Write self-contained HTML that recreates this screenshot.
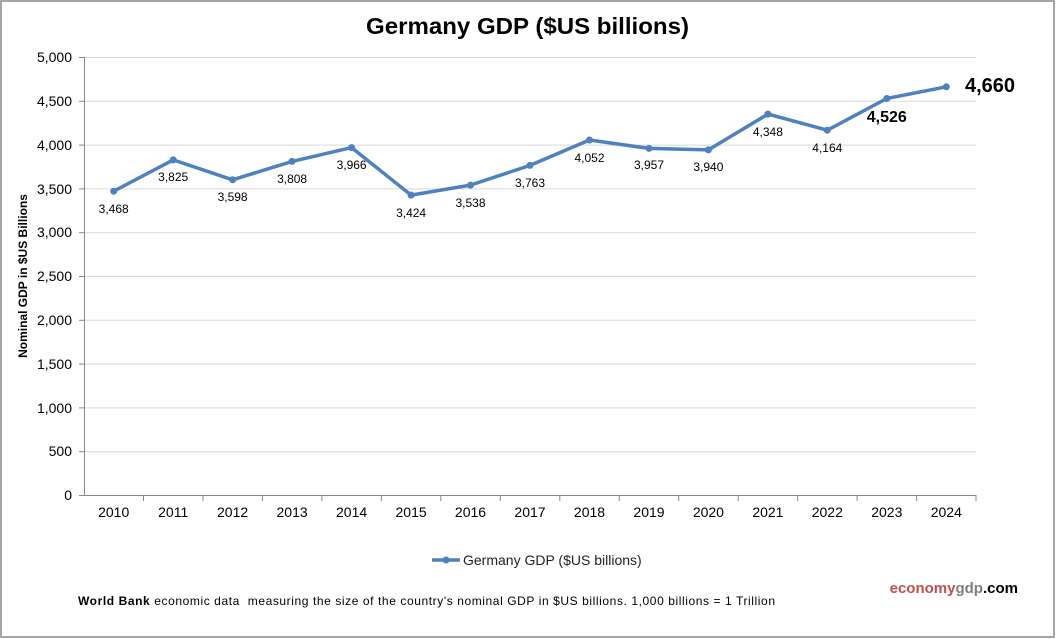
<!DOCTYPE html>
<html><head><meta charset="utf-8"><style>body{margin:0;background:#fff}svg{display:block;font-family:"Liberation Sans",Arial,sans-serif}</style></head><body>
<svg width="1056" height="639" viewBox="0 0 1056 639">
<rect x="1" y="1" width="1053" height="636" fill="#fff" stroke="#888" stroke-width="1.5"/>
<text x="366" y="34" textLength="323" lengthAdjust="spacingAndGlyphs" font-size="23" font-weight="bold">Germany GDP ($US billions)</text>
<g stroke="#d9d9d9" stroke-width="1">
<line x1="84" y1="57.5" x2="976" y2="57.5"/><line x1="84" y1="101.3" x2="976" y2="101.3"/><line x1="84" y1="145.1" x2="976" y2="145.1"/><line x1="84" y1="188.9" x2="976" y2="188.9"/><line x1="84" y1="232.7" x2="976" y2="232.7"/><line x1="84" y1="276.5" x2="976" y2="276.5"/><line x1="84" y1="320.3" x2="976" y2="320.3"/><line x1="84" y1="364.1" x2="976" y2="364.1"/><line x1="84" y1="407.9" x2="976" y2="407.9"/><line x1="84" y1="451.7" x2="976" y2="451.7"/>
</g>
<g stroke="#888" stroke-width="1">
<line x1="84.5" y1="57" x2="84.5" y2="495"/><line x1="79" y1="495.5" x2="976" y2="495.5"/>
<line x1="79" y1="57.5" x2="84" y2="57.5"/><line x1="79" y1="101.3" x2="84" y2="101.3"/><line x1="79" y1="145.1" x2="84" y2="145.1"/><line x1="79" y1="188.9" x2="84" y2="188.9"/><line x1="79" y1="232.7" x2="84" y2="232.7"/><line x1="79" y1="276.5" x2="84" y2="276.5"/><line x1="79" y1="320.3" x2="84" y2="320.3"/><line x1="79" y1="364.1" x2="84" y2="364.1"/><line x1="79" y1="407.9" x2="84" y2="407.9"/><line x1="79" y1="451.7" x2="84" y2="451.7"/>
<line x1="143.5" y1="495" x2="143.5" y2="501"/><line x1="203" y1="495" x2="203" y2="501"/><line x1="262.4" y1="495" x2="262.4" y2="501"/><line x1="321.9" y1="495" x2="321.9" y2="501"/><line x1="381.4" y1="495" x2="381.4" y2="501"/><line x1="440.8" y1="495" x2="440.8" y2="501"/><line x1="500.3" y1="495" x2="500.3" y2="501"/><line x1="559.8" y1="495" x2="559.8" y2="501"/><line x1="619.2" y1="495" x2="619.2" y2="501"/><line x1="678.7" y1="495" x2="678.7" y2="501"/><line x1="738.2" y1="495" x2="738.2" y2="501"/><line x1="797.6" y1="495" x2="797.6" y2="501"/><line x1="857.1" y1="495" x2="857.1" y2="501"/><line x1="916.6" y1="495" x2="916.6" y2="501"/><line x1="976" y1="495" x2="976" y2="501"/>
</g>
<g font-size="14" text-anchor="end">
<text x="72" y="62">5,000</text><text x="72" y="106">4,500</text><text x="72" y="150">4,000</text><text x="72" y="194">3,500</text><text x="72" y="237">3,000</text><text x="72" y="281">2,500</text><text x="72" y="325">2,000</text><text x="72" y="369">1,500</text><text x="72" y="413">1,000</text><text x="72" y="456">500</text><text x="72" y="500">0</text>
</g>
<g font-size="14" text-anchor="middle">
<text x="113.7" y="517">2010</text><text x="173.2" y="517">2011</text><text x="232.6" y="517">2012</text><text x="292.1" y="517">2013</text><text x="351.6" y="517">2014</text><text x="411.1" y="517">2015</text><text x="470.5" y="517">2016</text><text x="530" y="517">2017</text><text x="589.5" y="517">2018</text><text x="649" y="517">2019</text><text x="708.4" y="517">2020</text><text x="767.9" y="517">2021</text><text x="827.3" y="517">2022</text><text x="886.8" y="517">2023</text><text x="946.3" y="517">2024</text>
</g>
<text transform="translate(27,276) rotate(-90)" text-anchor="middle" font-size="12" font-weight="bold">Nominal GDP in $US  Billions</text>
<polyline fill="none" stroke="#4f81bd" stroke-width="3.5" stroke-linejoin="round" points="113.7,191.2 173.2,159.9 232.6,179.8 292.1,161.4 351.6,147.6 411.1,195.1 470.5,185.1 530,165.4 589.5,140 649,148.4 708.4,149.9 767.9,114.1 827.3,130.2 886.8,98.5 946.3,86.8"/>
<g fill="#4f81bd">
<circle cx="113.7" cy="191.2" r="3.5"/><circle cx="173.2" cy="159.9" r="3.5"/><circle cx="232.6" cy="179.8" r="3.5"/><circle cx="292.1" cy="161.4" r="3.5"/><circle cx="351.6" cy="147.6" r="3.5"/><circle cx="411.1" cy="195.1" r="3.5"/><circle cx="470.5" cy="185.1" r="3.5"/><circle cx="530" cy="165.4" r="3.5"/><circle cx="589.5" cy="140" r="3.5"/><circle cx="649" cy="148.4" r="3.5"/><circle cx="708.4" cy="149.9" r="3.5"/><circle cx="767.9" cy="114.1" r="3.5"/><circle cx="827.3" cy="130.2" r="3.5"/><circle cx="886.8" cy="98.5" r="3.5"/><circle cx="946.3" cy="86.8" r="3.5"/>
</g>
<g font-size="12" text-anchor="middle">
<text x="113.7" y="213">3,468</text><text x="173.2" y="181">3,825</text><text x="232.6" y="201">3,598</text><text x="292.1" y="183">3,808</text><text x="351.6" y="169">3,966</text><text x="411.1" y="217">3,424</text><text x="470.5" y="207">3,538</text><text x="530" y="187">3,763</text><text x="589.5" y="162">4,052</text><text x="649" y="169">3,957</text><text x="708.4" y="171">3,940</text><text x="767.9" y="136">4,348</text><text x="827.3" y="152">4,164</text>
</g>
<text x="886.8" y="122" text-anchor="middle" font-size="16" font-weight="bold">4,526</text>
<text x="990" y="92" text-anchor="middle" font-size="20" font-weight="bold">4,660</text>
<line x1="432" y1="560" x2="460" y2="560" stroke="#4f81bd" stroke-width="3.5"/><circle cx="446" cy="560" r="3.5" fill="#4f81bd"/>
<text x="463" y="565" font-size="14" fill="#222">Germany GDP ($US billions)</text>
<text x="78" y="605" font-size="12" textLength="697" lengthAdjust="spacing" xml:space="preserve"><tspan font-weight="bold">World Bank</tspan> economic data  measuring the size of the country's nominal GDP in $US billions. 1,000 billions = 1 Trillion</text>
<text x="1018" y="593" text-anchor="end" font-size="15" font-weight="bold"><tspan fill="#c0504d">economy</tspan><tspan fill="#7f7f7f">gdp</tspan><tspan fill="#000">.com</tspan></text>
</svg>
</body></html>
